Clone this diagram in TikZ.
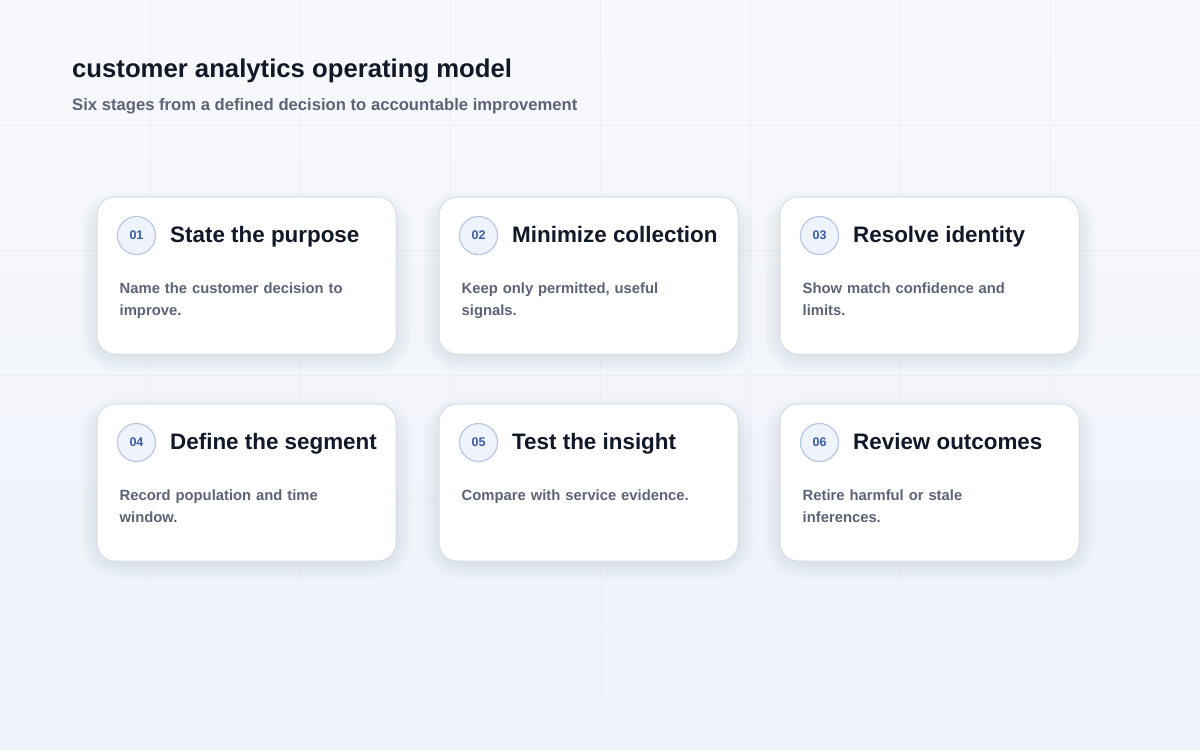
\documentclass[tikz,border=0pt]{standalone}
\usepackage{fontspec}
\setmainfont{Liberation Sans}
\definecolor{bgtop}{HTML}{F8F9FC}
\definecolor{bgbot}{HTML}{EEF2FA}
\definecolor{gridc}{HTML}{EBEEF4}
\definecolor{titlec}{HTML}{111827}
\definecolor{subc}{HTML}{5B6477}
\definecolor{cardborder}{HTML}{D8DEE9}
\definecolor{circfill}{HTML}{EEF3FD}
\definecolor{circdraw}{HTML}{B7C8E6}
\definecolor{numc}{HTML}{3A5BA8}
\definecolor{headc}{HTML}{111827}
\definecolor{bodyc}{HTML}{5B6477}
\definecolor{shadowc}{HTML}{6A7894}
\tikzset{
  card/.style={draw=cardborder, line width=1pt, fill=white, rounded corners=18pt,
    minimum width=299pt, minimum height=157pt, inner sep=0pt},
  shadowlayer/.style={fill=shadowc, fill opacity=0.014, draw=none},
  numcirc/.style={circle, draw=circdraw, line width=1.2pt, fill=circfill, minimum size=38pt, inner sep=0pt,
    font=\fontsize{12.5}{15}\selectfont\bfseries, text=numc},
  head/.style={anchor=base west, inner sep=0pt, font=\fontsize{22.4}{26}\selectfont\bfseries, text=headc},
  body/.style={anchor=north west, inner sep=0pt, align=left, text width=250pt,
    font=\fontsize{14.8}{22}\selectfont\bfseries, text=bodyc},
}
\newcommand{\mkcard}[6]{%
  \foreach \k in {2,4,...,20} {
    \fill[shadowlayer, rounded corners={18pt+\k pt}] (#2-149.5-\k+4,#3-78.5-\k+14) rectangle (#2+149.5+\k-4,#3+78.5+\k-2);
  }
  \node[card] (#1) at (#2,#3) {};
  \node[numcirc] (#1num) at ([xshift=40pt,yshift=-39pt]#1.north west) {#4};
  \node[head] (#1head) at ([xshift=73.5pt,yshift=-46pt]#1.north west) {#5};
  \node[body] (#1body) at ([xshift=23pt,yshift=-86pt]#1.north west) {#6};
}
\begin{document}
\begin{tikzpicture}[x=1pt,y=-1pt]
\useasboundingbox (0,0) rectangle (1200,750);
\shade[top color=bgtop, bottom color=bgbot] (0,0) rectangle (1200,750);
\foreach \gx in {150,300,...,1050} \draw[gridc, line width=0.8pt] (\gx,0) -- (\gx,750);
\foreach \gy in {125,250,...,625} \draw[gridc, line width=0.8pt] (0,\gy) -- (1200,\gy);
\node[anchor=base west, inner sep=0pt, font=\fontsize{25.7}{30}\selectfont\bfseries, text=titlec] (title) at (72,77) {customer analytics operating model};
\node[anchor=base west, inner sep=0pt, font=\fontsize{16.65}{20}\selectfont\bfseries, text=subc] (subtitle) at (72,110) {Six stages from a defined decision to accountable improvement};
\mkcard{c1}{246.5}{275.5}{01}{State the purpose}{Name the customer decision to\\improve.}
\mkcard{c2}{588.5}{275.5}{02}{Minimize collection}{Keep only permitted, useful\\signals.}
\mkcard{c3}{929.5}{275.5}{03}{Resolve identity}{Show match confidence and\\limits.}
\mkcard{c4}{246.5}{482.5}{04}{Define the segment}{Record population and time\\window.}
\mkcard{c5}{588.5}{482.5}{05}{Test the insight}{Compare with service evidence.}
\mkcard{c6}{929.5}{482.5}{06}{Review outcomes}{Retire harmful or stale\\inferences.}
\end{tikzpicture}
\end{document}
